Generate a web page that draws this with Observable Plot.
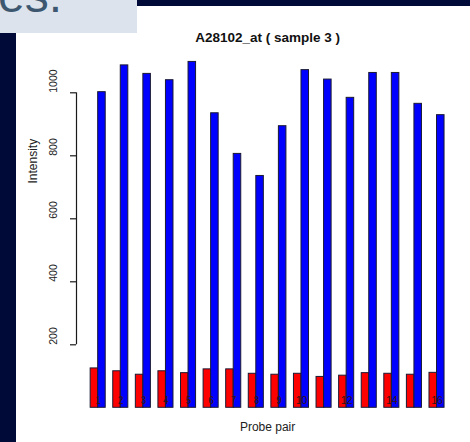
<!DOCTYPE html>
<html>
<head>
<meta charset="utf-8">
<script src="https://cdn.jsdelivr.net/npm/d3@7"></script>
<script src="https://cdn.jsdelivr.net/npm/@observablehq/plot@0.6"></script>
<style>
  html, body { margin: 0; padding: 0; background: #000a38; }
  #stage { position: relative; width: 470px; height: 442px; overflow: hidden; background: #000a38; }
  #panel { position: absolute; left: 16px; top: 6px; right: 0; bottom: 0; background: #ffffff; }
  #slidebox { position: absolute; left: 0; top: 0; width: 137px; height: 33px; background: #dce3ec; overflow: hidden; }
  #slidebox span { position: absolute; left: -2px; top: -28px; font-family: "Liberation Sans", Arial, sans-serif; font-size: 48px; line-height: 48px; color: #3d5770; white-space: nowrap; }
  #chart { position: absolute; left: 0; top: 0; }
</style>
</head>
<body>
<div id="stage">
  <div id="panel"></div>
  <div id="slidebox"><span>es.</span></div>
  <div id="chart"></div>
</div>
<script>
// ---- data ----
const pairIds = [1, 2, 3, 4, 5, 6, 7, 8, 9, 10, 11, 12, 13, 14, 15, 16];
const mmValues = [125, 116, 105, 116, 110, 122, 122, 108, 105, 108, 98, 102, 110, 108, 105, 111];
const pmValues = [1002, 1087, 1060, 1040, 1098, 935, 806, 736, 894, 1072, 1042, 984, 1063, 1063, 965, 929];
// labels that are visible in the picture (overlapping ones were dropped)
const pairLabels = ["1", "2", "3", "4", "5", "6", "7", "8", "9", "10", "", "12", "", "14", "", "16"];
const yTicks = [200, 400, 600, 800, 1000];
const titleText = "A28102_at ( sample 3 )";
const xLabel = "Probe pair";
const yLabel = "Intensity";

// ---- layout in bar-width units (like R barplot beside=TRUE, space=c(0,1)) ----
const bars = [];
pairIds.forEach((p, i) => {
  const start = 3 * i + 1;
  bars.push({pair: p, probe: "MM", value: mmValues[i], x1: start, x2: start + 1});
  bars.push({pair: p, probe: "PM", value: pmValues[i], x1: start + 1, x2: start + 2});
});
const groups = pairIds.map((p, i) => ({pair: p, label: pairLabels[i], center: 3 * i + 2}));
const tickRows = yTicks.map(v => ({value: v, label: String(v)}));
const xMin = 1, xMax = 3 * pairIds.length;
const ext = 0.04 * (xMax - xMin);
const xDomain = [xMin - ext, xMax + ext];

const W = 470, H = 442, mL = 76, mR = 11.8, mT = 60.8, mB = 34.7;
const unitPx = (W - mL - mR) / (xDomain[1] - xDomain[0]);
const tickLen = 6 / unitPx; // tick length expressed in x units

const font = "'Liberation Sans', Arial, Helvetica, sans-serif";
const axisColor = "#1a1a1a";

const chart = Plot.plot({
  width: W,
  height: H,
  marginLeft: mL,
  marginRight: mR,
  marginTop: mT,
  marginBottom: mB,
  style: {background: "transparent", fontFamily: font, fontSize: "10.5px"},
  x: {domain: xDomain, axis: null},
  y: {domain: [0, 1100], axis: null},
  marks: [
    Plot.rectY(bars, {
      x1: "x1", x2: "x2", y: "value",
      fill: d => d.probe === "MM" ? "#ff0000" : "#0000ff",
      stroke: "#1a1a33", strokeWidth: 1
    }),
    Plot.text(groups, {
      x: "center", y: () => 0, text: "label",
      lineAnchor: "bottom", dy: -4, fontSize: 10.5, fill: "#331111"
    }),
    Plot.text(tickRows, {
      y: "value", text: "label", frameAnchor: "left",
      rotate: -90, dx: -23, fontSize: 10.5, fill: "#222"
    }),
    Plot.text([titleText], {
      frameAnchor: "top", text: d => d, lineAnchor: "bottom", dy: -19,
      fontSize: 13.5, fontWeight: "bold", fill: "#111"
    }),
    Plot.text([xLabel], {
      frameAnchor: "bottom", text: d => d, lineAnchor: "bottom", dy: 22.7,
      fontSize: 12, fill: "#222"
    }),
    Plot.text([yLabel], {
      frameAnchor: "left", text: d => d, rotate: -90, dx: -43, dy: -51,
      fontSize: 12, fill: "#222"
    }),
    Plot.ruleX([xDomain[0]], {y1: yTicks[0], y2: yTicks[yTicks.length - 1], stroke: axisColor, strokeWidth: 1.2}),
    Plot.ruleY(tickRows, {y: "value", x1: xDomain[0] - tickLen, x2: xDomain[0], stroke: axisColor, strokeWidth: 1.2})
  ]
});
document.getElementById("chart").appendChild(chart);
</script>
</body>
</html>
